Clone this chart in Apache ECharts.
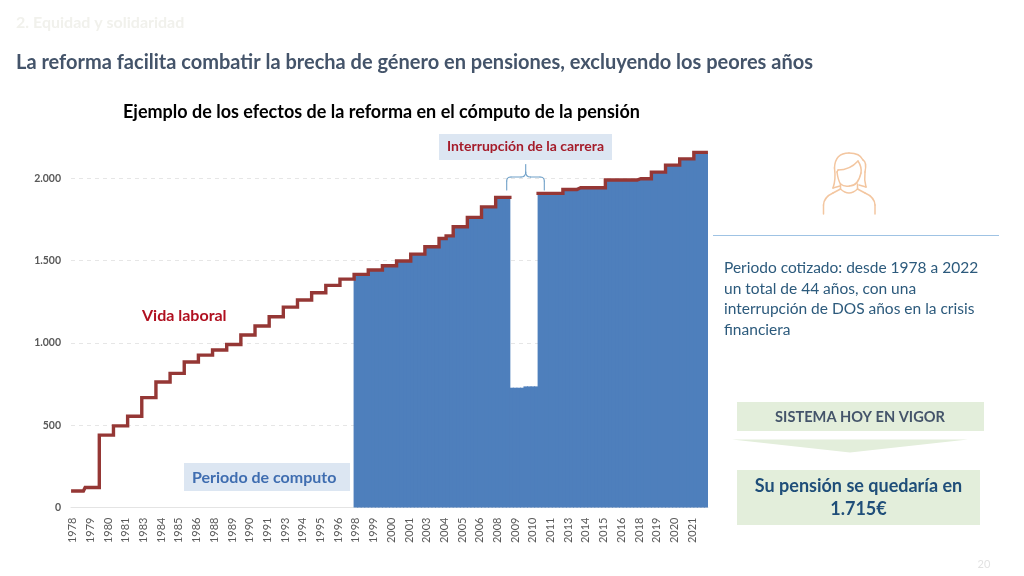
<!DOCTYPE html>
<html><head><meta charset="utf-8">
<style>html,body{margin:0;padding:0;background:#fff}#c{width:1024px;height:576px}</style>
<script src="https://cdn.jsdelivr.net/npm/echarts@6/dist/echarts.min.js"></script>
</head><body><div id="c"></div>
<script>
const years=[1978,1979,1980,1981,1982,1983,1984,1985,1986,1987,1988,1989,1990,1991,1992,1993,1994,1995,1996,1997,1998,1999,2000,2001,2002,2003,2004,2005,2006,2007,2008,2009,2010,2011,2012,2013,2014,2015,2016,2017,2018,2019,2020,2021,2022];
// Quarterly values, four per year
const vidaLaboral=[
100,100,100,100, 122,122,122,122, 440,440,440,440, 496,496,496,496, 555,555,555,555,
668,668,668,668, 763,763,763,763, 815,815,815,815, 884,884,884,884, 926,926,926,926,
957,957,957,957, 991,991,991,991, 1048,1048,1048,1048, 1103,1103,1103,1103, 1159,1159,1159,1159,
1218,1218,1218,1218, 1261,1261,1261,1261, 1305,1305,1305,1305, 1350,1350,1350,1350, 1388,1388,1388,1388,
1417,1417,1417,1417, 1443,1443,1443,1443, 1469,1469,1469,1469, 1498,1498,1498,1498, 1540,1540,1540,1540,
1585,1585,1585,1585, 1635,1635,1651,1651, 1706,1706,1706,1706, 1763,1763,1763,1763, 1827,1827,1827,1827,
1885,1885,1885,1885, null,null,null,null, null,null,null,null, 1909,1909,1909,1909, 1909,1909,1909,1933,
1933,1933,1933,1943, 1943,1943,1943,1943, 1943,1943,1943,1990, 1990,1990,1990,1990, 1990,1990,1990,1990,
1998,1998,1998,1998, 2038,2038,2038,2038, 2081,2081,2081,2081, 2119,2119,2119,2119, 2158,2158,2158,2158];
const interrupcion=[728,728,728,728,736,736,736,736];
const inicioComputo=80, inicioInterrupcion=124;
const categorias=years.flatMap(y=>[y,y,y,y].map(String));
const computo=vidaLaboral.map((v,i)=>i<inicioComputo?null:(v===null?interrupcion[i-inicioInterrupcion]:v));
const F='Lato, "Open Sans", sans-serif';
const txt=(x,y,t,size,color,weight,align)=>({type:'text',x,y,z:10,style:{text:t,font:(weight||'normal')+' '+size+'px '+F,fill:color,align:align||'left',verticalAlign:'middle'}});
const box=(x,y,w,h,fill)=>({type:'rect',shape:{x,y,width:w,height:h},z:5,style:{fill}});
// Small outline helper: turns M/L/H/V/Q drawing commands into line and curve elements
function stroke(d,color,w){
 const tk=d.match(/[MLHVQ]|-?[\d.]+/g),out=[];let i=0,x=0,y=0;
 const st={fill:'none',stroke:color,lineWidth:w,lineCap:'round'};
 while(i<tk.length){
  const c=tk[i++];
  if(c==='M'){x=+tk[i++];y=+tk[i++];continue;}
  if(c==='Q'){const cx=+tk[i++],cy=+tk[i++],nx=+tk[i++],ny=+tk[i++];
   out.push({type:'bezierCurve',z:6,shape:{x1:x,y1:y,x2:nx,y2:ny,cpx1:cx,cpy1:cy},style:st});x=nx;y=ny;continue;}
  let nx=x,ny=y;
  if(c==='L'){nx=+tk[i++];ny=+tk[i++];} else if(c==='H'){nx=+tk[i++];} else if(c==='V'){ny=+tk[i++];}
  out.push({type:'line',z:6,shape:{x1:x,y1:y,x2:nx,y2:ny},style:st});x=nx;y=ny;
 }
 return out;
}
const icon='#f3c6a0';
const chart=echarts.init(document.getElementById('c'),null,{renderer:'canvas'});
chart.setOption({
 animation:false,backgroundColor:'#fff',
 grid:{left:71,right:316,top:145.5,bottom:68.5,containLabel:false},
 xAxis:{type:'category',data:categorias,boundaryGap:true,
  axisLine:{lineStyle:{color:'#e4e4e4',width:1}},axisTick:{show:false},
  axisLabel:{interval:4,rotate:90,fontSize:11,fontFamily:F,color:'#595959',margin:10,hideOverlap:false}},
 yAxis:{type:'value',min:0,max:2200,interval:500,
  axisLine:{show:false},axisTick:{show:false},
  splitLine:{show:true,showMaxLine:false,lineStyle:{color:'#e6e6e6',type:[4,4],width:1}},
  axisLabel:{showMaxLabel:false,fontSize:10.5,fontFamily:F,fontWeight:'bold',color:'#595959',margin:10,
   formatter:v=>v>2000?'':(v>=1000?Math.floor(v/1000)+'.'+String(v%1000).padStart(3,'0'):String(v))}},
 series:[
  {name:'Periodo de computo',type:'bar',data:computo,barWidth:'130%',itemStyle:{color:'#4e7fbc'},z:2},
  {name:'Vida laboral',type:'line',data:vidaLaboral,step:'middle',symbol:'none',connectNulls:false,z:3,
   lineStyle:{color:'#953735',width:3.4,cap:'square',join:'miter'}}
 ],
 graphic:{elements:[
  txt(16,23,'2. Equidad y solidaridad',16,'#f1f1ec','bold'),
  txt(16,62.5,'La reforma facilita combatir la brecha de género en pensiones, excluyendo los peores años',20,'#44546a','bold'),
  txt(123,112,'Ejemplo de los efectos de la reforma en el cómputo de la pensión',18,'#000','bold'),
  box(439,134,173,26,'#dce6f2'),
  txt(525.5,146.5,'Interrupción de la carrera',14,'#a51c2a','bold','center'),
  ...stroke('M506.7 190 V181 Q506.7 177 511 177 H521 Q525.7 177 525.7 172 V164.5 M544.3 190 V181 Q544.3 177 540 177 H530.5 Q525.7 177 525.7 172',"#6fa0c8",1.1),
  txt(142,315.5,'Vida laboral',16,'#b01020','bold'),
  box(184,463,166,28,'#dce6f2'),
  txt(192,477.5,'Periodo de computo',16,'#3f6db0','bold'),
  // woman icon
  ...stroke('M823.5 214 V205 Q824 197 833 193 L840.5 189 Q849 197 857.5 189 L865 193 Q874.5 197 875 205 V214',icon,1.5),
  ...stroke('M840.5 189 V184 M857.5 189 V184',icon,1.5),
  ...stroke('M840.5 184 Q844 187 849.5 186 Q858 186 861 173 Q862 167 858 161 Q850 170 838 170 L837 172 Q838 180 840.5 184',icon,1.5),
  ...stroke('M833 188 Q836 180 834.5 168 Q835 153 849 153 Q860 153 863 160 Q867 162 865 172 Q864 180 866 187 L859 185 M833 188 L840 186',icon,1.5),
  {type:'line',z:5,shape:{x1:713,y1:235.5,x2:999,y2:235.5},style:{stroke:'#9fc3e4',lineWidth:1}},
  txt(724,267.5,'Periodo cotizado: desde 1978 a 2022',15.5,'#2c5a7c'),
  txt(724,288.5,'un total de 44 años, con una',15.5,'#2c5a7c'),
  txt(724,309,'interrupción de DOS años en la crisis',15.5,'#2c5a7c'),
  txt(724,330,'financiera',15.5,'#2c5a7c'),
  box(737,402,247,29,'#e3eedb'),
  txt(860,417,'SISTEMA HOY EN VIGOR',14.6,'#44546a','bold','center'),
  {type:'polygon',z:5,shape:{points:[[732,439.5],[968,439.5],[850,452.5]]},style:{fill:'#e3eedb'}},
  box(737,470,243,55,'#e3eedb'),
  txt(858.5,486.5,'Su pensión se quedaría en',18,'#1f4e79','bold','center'),
  txt(858.5,509,'1.715€',18,'#1f4e79','bold','center'),
  txt(984,564,'20',11,'#e2e2e2','normal','center')
 ]}
});
</script></body></html>
